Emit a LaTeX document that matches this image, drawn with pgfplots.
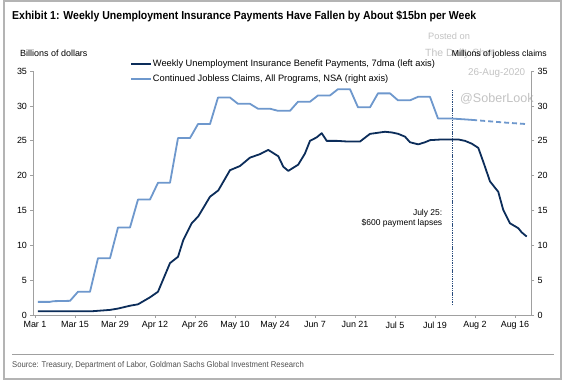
\documentclass[border=0pt]{standalone}
\usepackage{fontspec}
\setmainfont{Liberation Sans}
\newfontfamily\condfont[FakeStretch=0.91]{Liberation Sans}
\newfontfamily\condsrc[FakeStretch=0.92]{Liberation Sans}
\usepackage{pgfplots}
\pgfplotsset{compat=1.18}
\definecolor{navy}{RGB}{12,45,90}
\definecolor{lblue}{RGB}{110,152,205}
\definecolor{axgray}{RGB}{160,160,160}
\definecolor{wm}{RGB}{195,195,195}
\begin{document}
\begin{tikzpicture}
\path[use as bounding box] (0bp,0bp) rectangle (564bp,382bp);
\fill[white] (0bp,0bp) rectangle (564bp,382bp);
\draw[color={rgb,255:red,180;green,180;blue,180}, line width=1.5bp] (4bp,3bp) rectangle (561bp,381bp);
% title
\node[anchor=base west, inner sep=0pt] at (12bp,362.8bp) {\condfont\bfseries\fontsize{11.6}{13}\selectfont Exhibit 1: Weekly Unemployment Insurance Payments Have Fallen by About \$15bn per Week};
% watermark
\node[anchor=base west, inner sep=0pt, text=wm] at (428bp,342.5bp) {\fontsize{9.3}{11}\selectfont Posted on};
\node[anchor=base west, inner sep=0pt, text=wm] at (425bp,325bp) {\fontsize{10.5}{12}\selectfont The Daily Shot};
\node[anchor=base west, inner sep=0pt, text=wm] at (468bp,306.8bp) {\fontsize{9.9}{11}\selectfont 26-Aug-2020};
\node[anchor=base west, inner sep=0pt, text=wm] at (460bp,279.3bp) {\fontsize{12.6}{14}\selectfont @SoberLook};
% axis titles
\node[anchor=base west, inner sep=0pt] at (20bp,325.7bp) {\fontsize{9}{10}\selectfont Billions of dollars};
\node[anchor=base west, inner sep=0pt] at (451.7bp,325.5bp) {\fontsize{8.7}{10}\selectfont Millions of jobless claims};
% source
\draw[color={rgb,255:red,160;green,160;blue,160}, line width=0.8bp] (12bp,27.7bp) -- (554bp,27.7bp);
\node[anchor=base west, inner sep=0pt, text={rgb,255:red,80;green,80;blue,80}] at (12bp,14.7bp) {\condsrc\fontsize{8.4}{10}\selectfont Source: Treasury, Department of Labor, Goldman Sachs Global Investment Research};

\begin{axis}[
  at={(33bp,66.5bp)}, anchor=south west,
  scale only axis, width=498.7bp, height=244.5bp,
  xmin=-0.7, xmax=173.85, ymin=0, ymax=35,
  axis x line*=bottom, axis y line*=left,
  axis line style={-, draw=axgray, line width=0.8bp},
  xtick={0,14,...,168},
  xticklabels={Mar 1,Mar 15,Mar 29,Apr 12,Apr 26,May 10,May 24,Jun 7,Jun 21,Jul 5,Jul 19,Aug 2,Aug 16},
  ytick={0,5,...,35},
  tick align=outside, major tick length=2.5bp,
  tick style={draw=axgray, line width=0.8bp},
  tick label style={font=\fontsize{9}{10}\selectfont},
  /pgf/number format/assume math mode=true,
  clip=false,
]
\addplot[navy, line width=1.8bp, line join=round] coordinates {
(1.05,0.6)(10,0.6)(20.3,0.62)(26.25,0.8)(29.15,1.0)(33.25,1.4)(36.05,1.6)(40.25,2.6)(43.05,3.4)(47.25,7.5)(50.05,8.4)(51.9,10.8)(54.85,13.2)(57.15,14.2)(61.25,17.0)(64.15,17.9)(68.25,20.8)(71.75,21.4)(75.25,22.6)(78.75,23.1)(81.65,23.7)(85.15,22.8)(86.9,21.3)(88.65,20.7)(92.15,21.6)(94.5,23.2)(96.25,25.0)(98.6,25.5)(100.35,26.1)(102.1,25.0)(105.6,25.0)(109.55,24.9)(113.75,24.9)(117.25,26.0)(122.5,26.3)(124.95,26.2)(127.15,26.0)(129.5,25.6)(131.25,24.8)(134.15,24.5)(136.5,24.8)(138.25,25.1)(142.35,25.2)(148.15,25.2)(150.5,25.0)(152.85,24.6)(155.15,24.0)(156.9,22.0)(159.25,19.2)(162.15,17.7)(163.9,15.1)(166.25,13.2)(169.15,12.5)(170.35,11.9)(172.1,11.3)
};
\addplot[color={rgb,255:red,40;green,75;blue,125}, line width=1bp, dash pattern=on 1.4bp off 0.9bp] coordinates {(146,1.5)(146,32.3)};
\node[anchor=base east, inner sep=0pt, align=right, font=\fontsize{8.5}{10.4}\selectfont] at (axis cs:142.6,12.84) {July 25:\\\$600 payment lapses};
\end{axis}

\begin{axis}[
  at={(33bp,66.5bp)}, anchor=south west,
  scale only axis, width=498.7bp, height=244.5bp,
  xmin=-0.7, xmax=173.85, ymin=0, ymax=35,
  axis x line=none, axis y line*=right,
  axis line style={-, draw=axgray, line width=0.8bp},
  ytick={0,5,...,35},
  tick align=outside, major tick length=2.5bp,
  tick style={draw=axgray, line width=0.8bp},
  tick label style={font=\fontsize{9}{10}\selectfont},
  /pgf/number format/assume math mode=true,
  legend style={at={(0.195,1.05)}, anchor=north west, draw=none, fill=none,
    font=\fontsize{9.3}{10.5}\selectfont, inner sep=0pt, row sep=6bp,
    nodes={inner sep=0.5bp}},
  legend cell align=left,
  legend image code/.code={\draw[#1] (0bp,0bp) -- (20bp,0bp);},
  clip=false,
]
\addlegendimage{color=navy, line width=2bp}
\addlegendentry{Weekly Unemployment Insurance Benefit Payments, 7dma (left axis)}
\addplot[lblue, line width=1.8bp, line join=round] coordinates {
(1.05,1.95)(5.2,1.95)(6.5,2.05)(12.25,2.1)(15.05,3.4)(19.25,3.4)(22.05,8.2)(26.25,8.2)(29.05,12.6)(33.25,12.6)(36.05,16.6)(40.25,16.6)(43.05,19.0)(47.25,19.0)(50.05,25.4)(54.25,25.4)(57.05,27.4)(61.25,27.4)(64.05,31.2)(68.25,31.2)(71.05,30.3)(75.25,30.3)(78.05,29.6)(82.25,29.6)(85.05,29.3)(89.25,29.3)(92.05,30.6)(96.25,30.6)(99.05,31.5)(103.25,31.5)(106.05,32.4)(110.25,32.4)(113.05,29.8)(117.25,29.8)(120.05,31.8)(124.25,31.8)(127.05,30.8)(131.25,30.8)(134.05,31.3)(138.25,31.3)(141.05,28.2)(145.5,28.2)(149.5,28.1)(153,28.0)
};
\addlegendentry{Continued Jobless Claims, All Programs, NSA (right axis)}
\addplot[lblue, line width=1.8bp, dash pattern=on 5bp off 3bp, forget plot] coordinates {(153,28.0)(159,27.8)(165,27.6)(172.2,27.4)};
\end{axis}
\end{tikzpicture}
\end{document}
